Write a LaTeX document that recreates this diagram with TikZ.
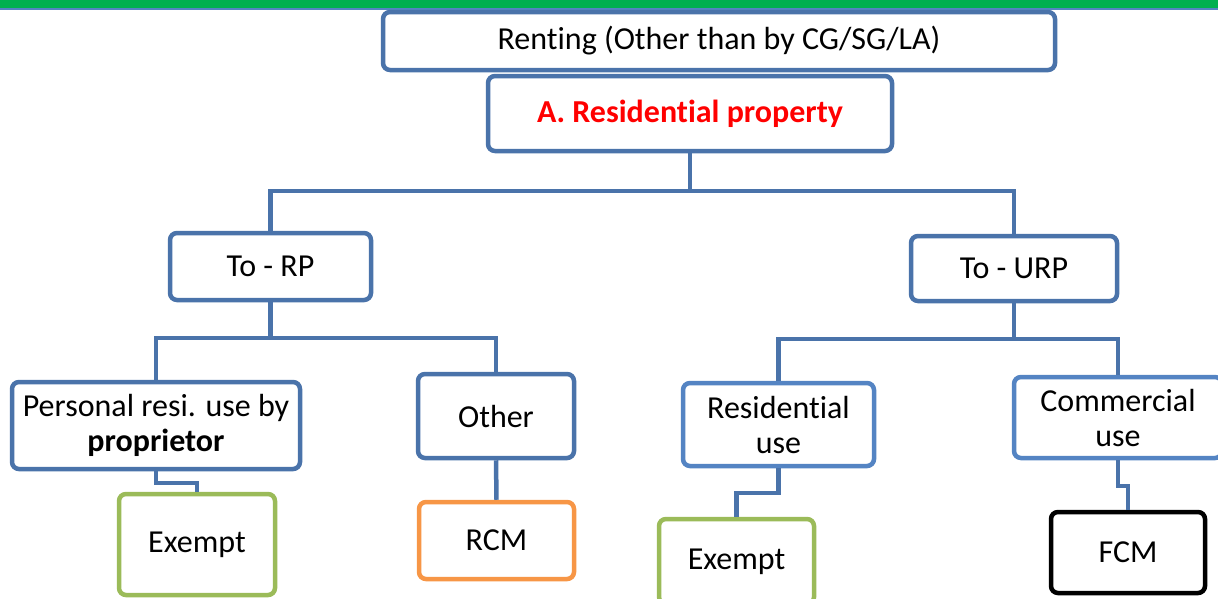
\documentclass[tikz,border=0pt]{standalone}
\usepackage{fontspec}
\setmainfont[Ligatures=NoCommon]{Carlito}
\definecolor{bardark}{RGB}{74,115,170}
\definecolor{barlight}{RGB}{84,132,195}
\definecolor{topgreen}{RGB}{0,176,80}
\definecolor{exgreen}{RGB}{155,187,89}
\definecolor{rcmorange}{RGB}{247,150,70}
\definecolor{redtxt}{RGB}{255,0,0}
\tikzset{
  box/.style={draw=bardark, line width=4.5pt, rounded corners=7pt, fill=white,
    inner sep=0pt, align=center, font=\fontsize{32}{35}\selectfont},
  lightbox/.style={box, draw=barlight},
  exbox/.style={box, draw=exgreen},
  rcmbox/.style={box, draw=rcmorange},
  fcmbox/.style={box, draw=black},
  conn/.style={draw=bardark, line width=4.5pt},
}
\begin{document}
\begin{tikzpicture}[x=1pt,y=-1pt]
\useasboundingbox (0,0) rectangle (1218,598);
\clip (0,0) rectangle (1218,598);
\fill[topgreen] (0,0) rectangle (1218,8);
\fill[barlight] (0,8) rectangle (1218,10);

\node[box, minimum width=672pt, minimum height=58pt] (rent) at (719,41) {Renting (Other than by CG/SG/LA)};
\node[box, minimum width=404pt, minimum height=75pt] (resprop) at (690,113.5) {\textcolor{redtxt}{\bfseries A. Residential property}};
\node[box, minimum width=201pt, minimum height=67pt] (torp) at (270.5,266.5) {To - RP};
\node[box, minimum width=206pt, minimum height=65pt] (tourp) at (1014,268.5) {To - URP};
\node[box, minimum width=288pt, minimum height=87pt] (pers) at (156,425.5) {Personal resi. use by\\\bfseries proprietor};
\node[box, minimum width=156pt, minimum height=84pt] (other) at (496,416) {Other};
\node[lightbox, minimum width=191pt, minimum height=83pt] (resuse) at (778.5,424.5) {Residential\\use};
\node[lightbox, minimum width=208pt, minimum height=81pt] (comuse) at (1118,417.5) {Commercial\\use};
\node[exbox, minimum width=156pt, minimum height=101pt] (exa) at (197,544.5) {Exempt};
\node[rcmbox, minimum width=155pt, minimum height=77pt] (rcm) at (496.5,540.5) {RCM};
\node[exbox, minimum width=155pt, minimum height=85pt] (exb) at (736.5,561.5) {Exempt};
\node[fcmbox, minimum width=154pt, minimum height=81pt] (fcm) at (1128,552.5) {FCM};

\draw[conn] (resprop.south) -- (resprop.south |- 0,191) -| (torp.north);
\draw[conn] (resprop.south |- 0,191) -| (tourp.north);
\draw[conn] (torp.south) -- (torp.south |- 0,338) -| (pers.north);
\draw[conn] (torp.south |- 0,338) -| (other.north);
\draw[conn] (tourp.south) -- (tourp.south |- 0,339) -| (resuse.north);
\draw[conn] (tourp.south |- 0,339) -| (comuse.north);
\draw[conn] (pers.south) -- (pers.south |- 0,483) -| (exa.north);
\draw[conn] (other.south) -- (rcm.north);
\draw[conn] (resuse.south) -- (resuse.south |- 0,493) -| (exb.north);
\draw[conn] (comuse.south) -- (comuse.south |- 0,486) -| (fcm.north);
\end{tikzpicture}
\end{document}
